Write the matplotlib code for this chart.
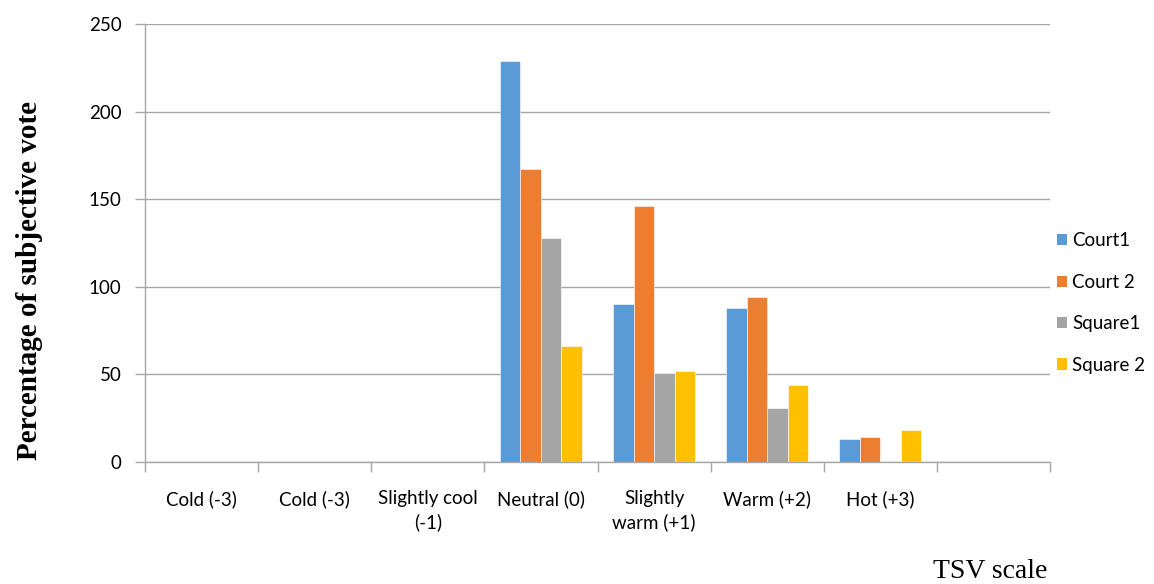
import matplotlib.pyplot as plt
import numpy as np
from matplotlib.patches import Patch

# TSV categories (last slot left empty)
categories = ["Cold (-3)", "Cold (-3)", "Slightly cool\n(-1)", "Neutral (0)",
              "Slightly\nwarm (+1)", "Warm (+2)", "Hot (+3)", ""]
series_names = ["Court1", "Court 2", "Square1", "Square 2"]
court1 = [0, 0, 0, 229, 90, 88, 13, 0]
court2 = [0, 0, 0, 167, 146, 94, 14, 0]
square1 = [0, 0, 0, 128, 51, 31, 0, 0]
square2 = [0, 0, 0, 66, 52, 44, 18, 0]
colors = ["#5B9BD5", "#ED7D31", "#A5A5A5", "#FFC000"]

font = "Lato"
fs = 13.5
fig = plt.figure(figsize=(11.54, 5.84), dpi=100)
ax = fig.add_axes([145 / 1154, 1 - 462 / 584, 905 / 1154, 438 / 584])

x = np.arange(len(categories))
width = 0.181
for i, vals in enumerate([court1, court2, square1, square2]):
    ax.bar(x + (i - 1.5) * width, vals, width, color=colors[i],
           edgecolor="white", linewidth=0.4, zorder=3)

ax.set_xlim(-0.5, len(categories) - 0.5)
ax.set_ylim(0, 250)
ax.set_yticks(np.arange(0, 251, 50))
ax.yaxis.grid(True, color="#A6A6A6", linewidth=1.0, zorder=0)

# category labels centered, ticks at the boundaries
ax.set_xticks(x)
ax.set_xticklabels(categories, fontname=font, fontsize=fs, linespacing=1.45)
ax.set_xticks(np.arange(len(categories) + 1) - 0.5, minor=True)
ax.tick_params(axis="x", which="major", length=0, pad=20)
ax.tick_params(axis="x", which="minor", length=7, color="#A6A6A6", width=1.0)
ax.tick_params(axis="y", length=7, color="#A6A6A6", width=1.0, pad=10)
for lbl in ax.get_yticklabels():
    lbl.set_fontname(font)
    lbl.set_fontsize(fs)

for side in ["top", "right"]:
    ax.spines[side].set_visible(False)
for side in ["left", "bottom"]:
    ax.spines[side].set_color("#A6A6A6")
    ax.spines[side].set_linewidth(1.0)

fig.text(30 / 1154, 1 - 281 / 584, "Percentage of subjective vote", rotation=90,
         ha="center", va="center", fontname="Liberation Serif",
         fontweight="bold", fontsize=21)
fig.text(1047 / 1154, 1 - 572 / 584, "TSV scale", ha="right", va="center",
         fontname="Liberation Serif", fontsize=20)

handles = [Patch(facecolor=c, edgecolor="none") for c in colors]
fig.legend(handles, series_names, loc="center left",
           bbox_to_anchor=(1040 / 1154, 1 - 303 / 584), frameon=False,
           prop={"family": font, "size": fs}, handlelength=0.55,
           handleheight=0.55, handletextpad=0.25, labelspacing=1.3)

fig.savefig("out.png", dpi=100)
